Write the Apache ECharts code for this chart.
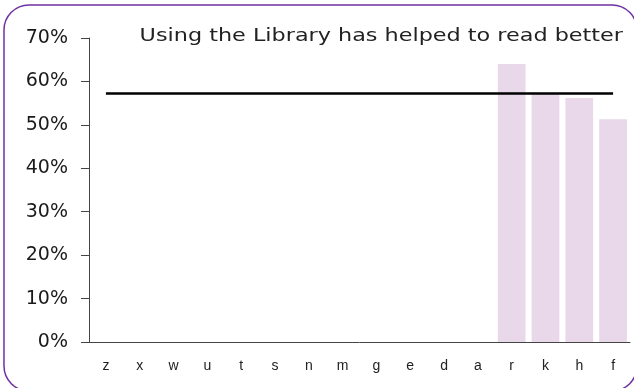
<!DOCTYPE html>
<html>
<head>
<meta charset="utf-8">
<script src="https://cdn.jsdelivr.net/npm/echarts@6/dist/echarts.min.js"></script>
<style>
  html, body { margin: 0; padding: 0; background: #ffffff; }
  #chart { width: 634px; height: 388px; }
</style>
</head>
<body>
<div id="chart"></div>
<script>
// Categories along the x axis
const categories = ['z', 'x', 'w', 'u', 't', 's', 'n', 'm', 'g', 'e', 'd', 'a', 'r', 'k', 'h', 'f'];
// Share of respondents (%) per category; empty where no bar is shown
const barValues = [null, null, null, null, null, null, null, null, null, null, null, null, 64.0, 57.3, 56.2, 51.3];
// Overall reference level (%)
const referenceLevel = 57.2;
const referenceValues = categories.map(() => referenceLevel);
// Title text
const titleText = 'Using the Library has helped to read better';

const chart = echarts.init(document.getElementById('chart'), null, { renderer: 'canvas' });

chart.setOption({
  animation: false,
  backgroundColor: '#ffffff',
  grid: { left: 89, right: 4, top: 38, bottom: 46 },
  graphic: [
    {
      type: 'rect',
      shape: { x: 4, y: 5, width: 633, height: 386, r: 25 },
      style: { fill: 'none', stroke: '#7030a0', lineWidth: 1.5 },
      z: 100
    },
    {
      type: 'text',
      x: 623, y: 36,
      scaleX: 1.24,
      style: {
        text: titleText,
        fill: '#222222',
        font: '18px "DejaVu Sans"',
        textAlign: 'right',
        textVerticalAlign: 'middle'
      },
      z: 100
    }
  ],
  xAxis: {
    type: 'category',
    data: categories,
    axisLine: { lineStyle: { color: '#444444', width: 1 } },
    axisTick: { show: false },
    axisLabel: {
      color: '#222222',
      fontFamily: 'Liberation Sans',
      fontSize: 14,
      margin: 17,
      interval: 0
    },
    splitLine: { show: false }
  },
  yAxis: {
    type: 'value',
    min: 0,
    max: 70,
    interval: 10,
    axisLine: { show: true, lineStyle: { color: '#444444', width: 1 } },
    axisTick: { show: true, length: 8, lineStyle: { color: '#444444' } },
    axisLabel: {
      formatter: '{value}%',
      color: '#1a1a1a',
      fontFamily: 'DejaVu Sans',
      fontSize: 19,
      margin: 21
    },
    splitLine: { show: false }
  },
  series: [
    {
      type: 'bar',
      data: barValues,
      barCategoryGap: '18%',
      itemStyle: { color: '#e9d7ea' },
      z: 2
    },
    {
      type: 'line',
      data: referenceValues,
      symbol: 'none',
      lineStyle: { color: '#000000', width: 2.5 },
      z: 3
    }
  ]
});
</script>
</body>
</html>
